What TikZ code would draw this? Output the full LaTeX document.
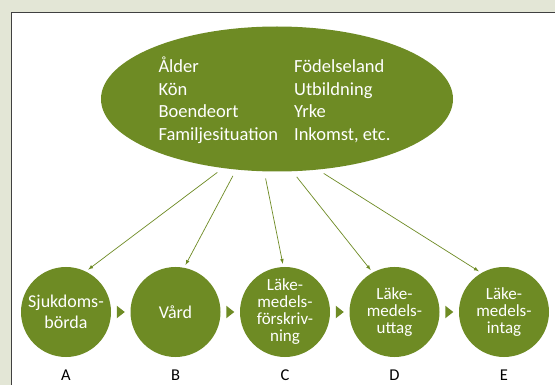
\documentclass[tikz,border=0pt]{standalone}
\usepackage{fontspec}
\setmainfont{Carlito}
\usetikzlibrary{arrows,shapes.geometric}

\definecolor{leaf}{RGB}{110,139,36}
\definecolor{paper}{RGB}{227,230,214}
\definecolor{rim}{RGB}{64,64,64}

\begin{document}
\begin{tikzpicture}[x=1pt,y=-1pt]
  \tikzstyle{every node}=[text=white,align=center]
  \tikzstyle{stage}=[circle,fill=leaf,minimum size=90pt,inner sep=0pt,
    font=\fontsize{18}{21}\selectfont]
  \tikzstyle{small}=[font=\fontsize{17}{17}\selectfont]
  \tikzstyle{tag}=[text=black,inner sep=1pt,font=\fontsize{16.5}{18}\selectfont]
  \tikzstyle{feed}=[draw=leaf,line width=0.7pt,-latex,shorten <=7pt,shorten >=3pt]
  \useasboundingbox (0,0) rectangle (555,385);
  \fill[paper] (0,0) rectangle (555,385);
  \filldraw[fill=white,draw=rim,line width=1.2pt] (11.7,12.3) rectangle (580,400);

  % background factors
  \node[ellipse,fill=leaf,minimum width=352pt,minimum height=145pt,inner sep=0pt]
    (ell) at (277,99) {};
  \node[font=\fontsize{18.5}{22.8}\selectfont] (facts)
    at ([xshift=-2.5pt,yshift=-3pt]ell.center) {%
    \begin{tabular}{@{}l@{\hspace{16pt}}l@{}}
      Ålder & Födelseland\\
      Kön & Utbildning\\
      Boendeort & Yrke\\
      Familjesituation & Inkomst, etc.
    \end{tabular}};

  % chain A--E
  \path
  (66,312)     node[stage]       (sjuk)   {Sjukdoms-\\börda}
  ++(109.5,0)  node[stage]       (vard)   {Vård}
  ++(109.5,0)  node[stage,small] (forskr) {Läke-\\medels-\\förskriv-\\ning}
  ++(109.5,0)  node[stage,small] (uttag)  {Läke-\\medels-\\uttag}
  ++(109.5,0)  node[stage,small] (intag)  {Läke-\\medels-\\intag}
  ;
  \foreach \c/\t in {sjuk/A,vard/B,forskr/C,uttag/D,intag/E}
    \node[tag] (tag\t) at ([yshift=-18pt]\c.south) {\t};

  \foreach \x in {120.75,230.25,339.75,449.25}
    \fill[leaf] (\x-4,305.7) -- (\x+4,312) -- (\x-4,318.3) -- cycle;

  \draw[feed] (ell.232.5) -- (sjuk.64.7);
  \draw[feed] (ell.240.3) -- (vard.79.4);
  \draw[feed] (ell.260.9) -- (forskr.92.8);
  \draw[feed] (ell.282.3) -- (uttag.119.5);
  \draw[feed] (ell.300.8) -- (intag.120.5);
\end{tikzpicture}
\end{document}
